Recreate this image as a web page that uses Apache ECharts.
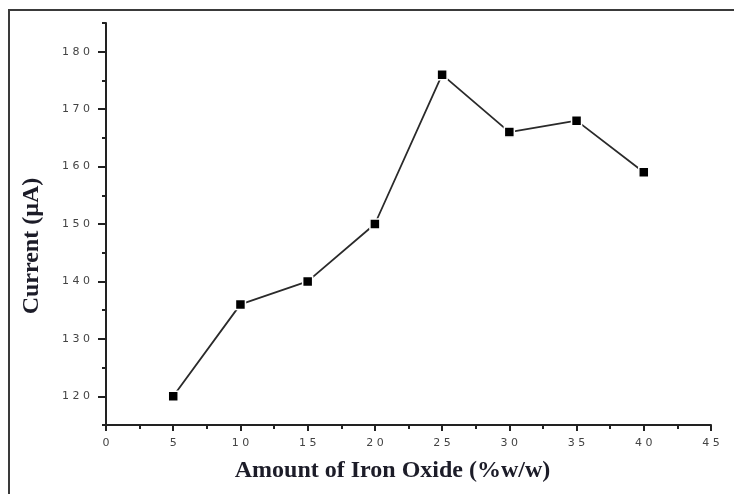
<!DOCTYPE html>
<html>
<head>
<meta charset="utf-8">
<script src="https://cdn.jsdelivr.net/npm/echarts@6/dist/echarts.min.js"></script>
<style>
  html, body { margin: 0; padding: 0; background: #fff; }
  #chart { width: 734px; height: 494px; }
</style>
</head>
<body>
<div id="chart"></div>
<script>
// iron oxide loading (% w/w) vs. peak current
const ironOxide = [5, 10, 15, 20, 25, 30, 35, 40];
const current = [120, 136, 140, 150, 176, 166, 168, 159];

const yMajorTicks = [120, 130, 140, 150, 160, 170, 180];
const yMinorTicks = [115, 125, 135, 145, 155, 165, 175, 185];

const points = ironOxide.map((x, i) => [x, current[i]]);

// spread the digits a little, like the original plot
const spaced = v => String(v).split('').join(' ');

const chart = echarts.init(document.getElementById('chart'));

const tickFont = {
  fontFamily: 'DejaVu Sans',
  fontSize: 11,
  color: '#444'
};
const titleFont = {
  fontFamily: 'Liberation Serif',
  fontWeight: 'bold',
  fontSize: 24,
  color: '#1c1c28'
};

chart.setOption({
  animation: false,
  backgroundColor: '#fff',
  graphic: [{
    type: 'rect',
    shape: { x: 9, y: 10, width: 900, height: 700 },
    style: { fill: 'none', stroke: '#3a3a3a', lineWidth: 2 },
    silent: true
  }],
  grid: { left: 106, right: 23, top: 23, bottom: 69 },
  xAxis: {
    type: 'value',
    min: 0,
    max: 45,
    interval: 5,
    name: 'Amount of Iron Oxide (%w/w)',
    nameLocation: 'middle',
    nameGap: 34,
    nameTextStyle: Object.assign({ padding: [0, 32, 0, 0] }, titleFont),
    axisLine: { show: true, lineStyle: { color: '#222', width: 2 } },
    axisTick: { show: true, length: 6, lineStyle: { color: '#222', width: 2 } },
    minorTick: { show: true, splitNumber: 2, length: 4, lineStyle: { color: '#222', width: 2 } },
    axisLabel: Object.assign({ margin: 13, formatter: spaced }, tickFont),
    splitLine: { show: false }
  },
  yAxis: [{
    type: 'value',
    min: 115,
    max: 185,
    name: 'Current (µA)',
    nameLocation: 'middle',
    nameGap: 62,
    nameTextStyle: Object.assign({ padding: [0, 44, 0, 0] }, titleFont),
    axisLine: { show: true, lineStyle: { color: '#222', width: 2 } },
    axisTick: { show: true, length: 8, customValues: yMajorTicks, lineStyle: { color: '#222', width: 2 } },
    axisLabel: Object.assign({ margin: 16, customValues: yMajorTicks, formatter: spaced }, tickFont),
    splitLine: { show: false }
  }, {
    // minor ticks only
    type: 'value',
    position: 'left',
    min: 115,
    max: 185,
    axisLine: { show: false },
    axisTick: { show: true, length: 4, customValues: yMinorTicks, lineStyle: { color: '#222', width: 2 } },
    axisLabel: { show: false },
    splitLine: { show: false }
  }],
  series: [{
    type: 'line',
    data: points,
    symbol: 'rect',
    symbolSize: 10,
    lineStyle: { color: '#2a2a2a', width: 1.8 },
    itemStyle: { color: '#000', borderColor: '#fff', borderWidth: 1.5 }
  }]
});
</script>
</body>
</html>
